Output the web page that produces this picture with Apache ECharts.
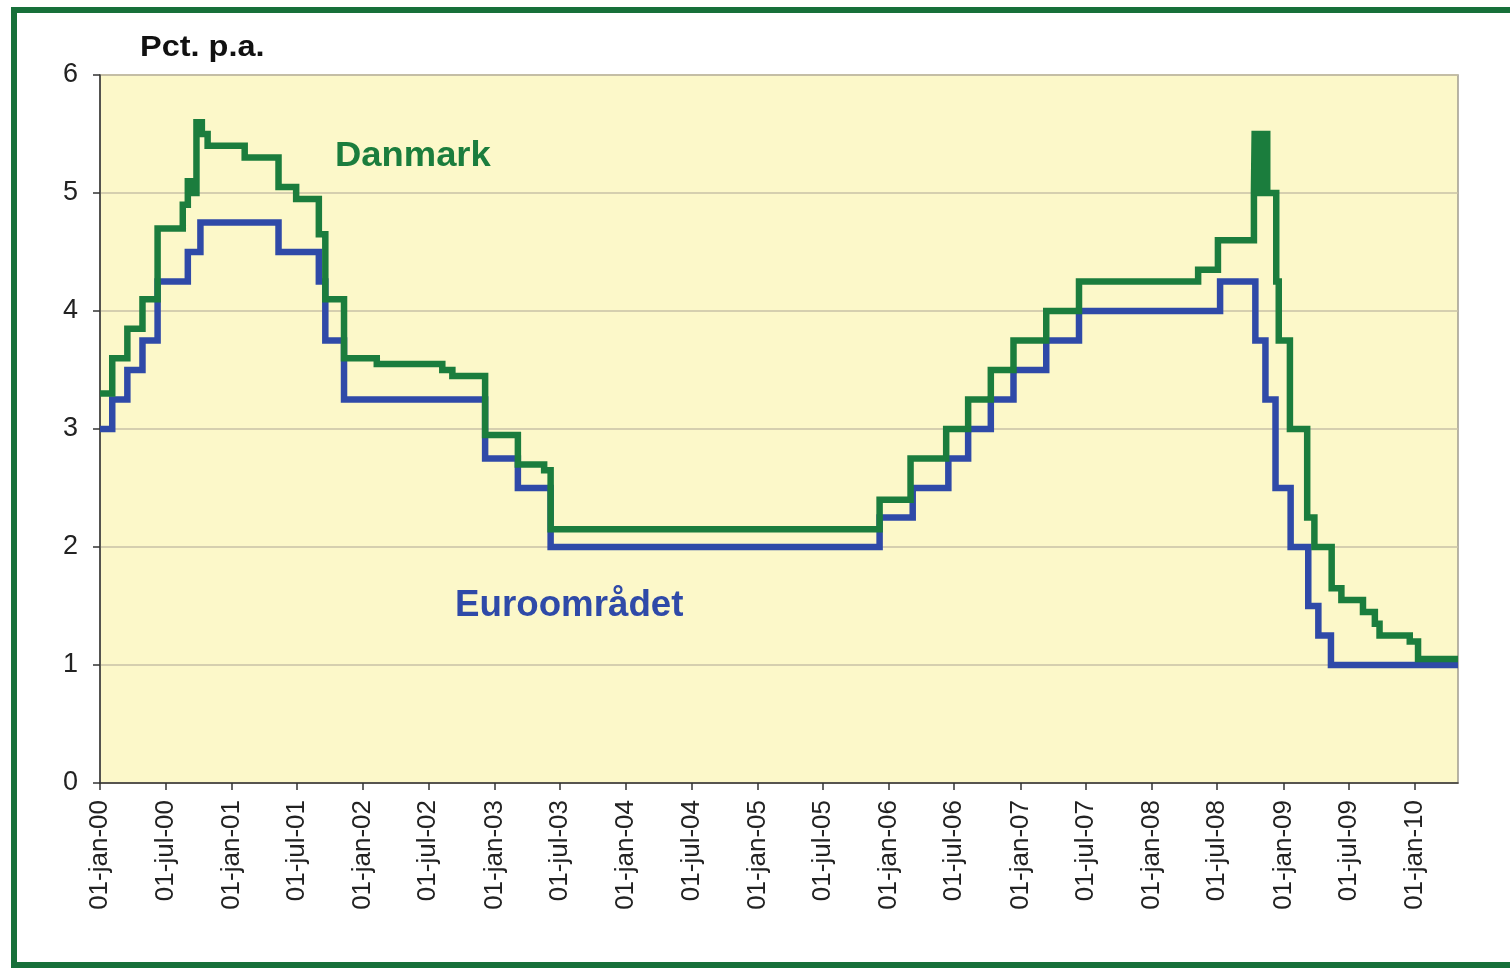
<!DOCTYPE html>
<html>
<head>
<meta charset="utf-8">
<script src="https://cdn.jsdelivr.net/npm/echarts@6/dist/echarts.min.js"></script>
<style>
  html, body { margin: 0; padding: 0; background: #fff; }
  #chart { width: 1510px; height: 970px; }
</style>
</head>
<body>
<div id="chart"></div>
<script>
// tick labels on the date axis (every half year)
const tickLabels = [
  '01-jan-00', '01-jul-00', '01-jan-01', '01-jul-01', '01-jan-02', '01-jul-02',
  '01-jan-03', '01-jul-03', '01-jan-04', '01-jul-04', '01-jan-05', '01-jul-05',
  '01-jan-06', '01-jul-06', '01-jan-07', '01-jul-07', '01-jan-08', '01-jul-08',
  '01-jan-09', '01-jul-09', '01-jan-10'
];
const axisStart = '2000-01-01';
const axisEnd = '2010-05-01';

// Danmark: date when the rate changes, new rate
const dkDates = [
  '2000-01-01', '2000-02-04', '2000-03-17', '2000-04-28', '2000-06-09', '2000-08-18',
  '2000-09-01', '2000-09-12', '2000-09-25', '2000-10-10', '2000-10-26', '2001-02-06',
  '2001-05-11', '2001-06-29', '2001-08-31', '2001-09-18', '2001-11-09', '2002-02-08',
  '2002-08-09', '2002-09-06', '2002-12-06', '2003-03-07', '2003-05-19', '2003-06-06',
  '2005-12-06', '2006-03-02', '2006-06-09', '2006-08-09', '2006-10-11', '2006-12-13',
  '2007-03-14', '2007-06-13', '2008-05-09', '2008-07-03', '2008-10-11', '2008-10-13',
  '2008-10-24', '2008-10-30', '2008-11-17', '2008-12-12', '2008-12-19', '2009-01-19',
  '2009-03-08', '2009-03-28', '2009-05-15', '2009-06-11', '2009-08-10', '2009-09-12',
  '2009-09-25', '2009-12-18', '2010-01-10', '2010-05-01'
];
const dkRates = [
  3.30, 3.60, 3.85, 4.10, 4.70, 4.90,
  5.10, 5.00, 5.60, 5.50, 5.40, 5.30,
  5.05, 4.95, 4.65, 4.10, 3.60, 3.55,
  3.50, 3.45, 2.95, 2.70, 2.65, 2.15,
  2.40, 2.75, 3.00, 3.25, 3.50, 3.75,
  4.00, 4.25, 4.35, 4.60, 5.00, 5.50,
  5.00, 5.50, 5.00, 4.25, 3.75, 3.00,
  2.25, 2.00, 1.65, 1.55, 1.45, 1.35,
  1.25, 1.20, 1.05, 1.05
];

// Euroområdet
const euDates = [
  '2000-01-01', '2000-02-04', '2000-03-17', '2000-04-28', '2000-06-09', '2000-09-01',
  '2000-10-06', '2001-05-11', '2001-08-31', '2001-09-18', '2001-11-09', '2002-12-06',
  '2003-03-07', '2003-06-06', '2005-12-06', '2006-03-08', '2006-06-15', '2006-08-09',
  '2006-10-11', '2006-12-13', '2007-03-14', '2007-06-13', '2008-07-09', '2008-10-15',
  '2008-11-12', '2008-12-10', '2009-01-21', '2009-03-11', '2009-04-08', '2009-05-13',
  '2010-05-01'
];
const euRates = [
  3.00, 3.25, 3.50, 3.75, 4.25, 4.50,
  4.75, 4.50, 4.25, 3.75, 3.25, 2.75,
  2.50, 2.00, 2.25, 2.50, 2.75, 3.00,
  3.25, 3.50, 3.75, 4.00, 4.25, 3.75,
  3.25, 2.50, 2.00, 1.50, 1.25, 1.00,
  1.00
];

const monthIdx = { jan: 0, jul: 6 };
function isoToTime(s) {
  const p = s.split('-');
  return Date.UTC(+p[0], +p[1] - 1, +p[2]);
}
function labelToTime(s) {
  const p = s.split('-');
  return Date.UTC(2000 + +p[2], monthIdx[p[1]], +p[0]);
}
const tickTimes = tickLabels.map(labelToTime);

const green = '#1b7d3d';
const blue = '#2f4aa8';
const font = '"Liberation Sans", Arial, sans-serif';

const chart = echarts.init(document.getElementById('chart'));
chart.setOption({
  animation: false,
  grid: {
    left: 100, right: 52, top: 75, bottom: 187,
    show: true,
    backgroundColor: '#fcf8c9',
    borderColor: '#a09c90',
    borderWidth: 1.5
  },
  xAxis: {
    type: 'value',
    min: isoToTime(axisStart),
    max: isoToTime(axisEnd),
    axisLine: { lineStyle: { color: '#333', width: 1.5 } },
    axisTick: { show: true, length: 7, lineStyle: { color: '#333', width: 1.5 }, customValues: tickTimes },
    axisLabel: {
      customValues: tickTimes,
      rotate: 90,
      margin: 17,
      color: '#222',
      fontFamily: font,
      fontSize: 26,
      formatter: function (val) {
        const i = tickTimes.indexOf(val);
        return i >= 0 ? tickLabels[i] : '';
      }
    },
    splitLine: { show: false }
  },
  yAxis: {
    type: 'value',
    min: 0, max: 6, interval: 1,
    axisLine: { show: true, lineStyle: { color: '#333', width: 1.5 } },
    axisTick: { show: true, length: 7, lineStyle: { color: '#333', width: 1.5 } },
    axisLabel: { color: '#222', fontFamily: font, fontSize: 27, margin: 22 },
    splitLine: { lineStyle: { color: '#c9c2a6', width: 1.5 } }
  },
  series: [
    {
      name: 'Euroområdet',
      type: 'line',
      step: 'end',
      symbol: 'none',
      lineStyle: { color: blue, width: 6.5, join: 'miter', cap: 'butt' },
      data: euDates.map((d, i) => [isoToTime(d), euRates[i]])
    },
    {
      name: 'Danmark',
      type: 'line',
      step: 'end',
      symbol: 'none',
      lineStyle: { color: green, width: 6.5, join: 'miter', cap: 'butt' },
      data: dkDates.map((d, i) => [isoToTime(d), dkRates[i]])
    }
  ],
  graphic: [
    {
      type: 'rect',
      shape: { x: 14, y: 10, width: 1600, height: 955 },
      style: { fill: 'none', stroke: '#17703a', lineWidth: 6 },
      silent: true
    },
    {
      type: 'text', x: 140, y: 33, scaleX: 1.12,
      style: { text: 'Pct. p.a.', font: 'bold 29px ' + font, fill: '#111' }
    },
    {
      type: 'text', x: 335, y: 139, scaleX: 1.04,
      style: { text: 'Danmark', font: 'bold 35px ' + font, fill: green }
    },
    {
      type: 'text', x: 455, y: 588, scaleX: 1.02,
      style: { text: 'Euroområdet', font: 'bold 36px ' + font, fill: blue }
    }
  ]
});
</script>
</body>
</html>
